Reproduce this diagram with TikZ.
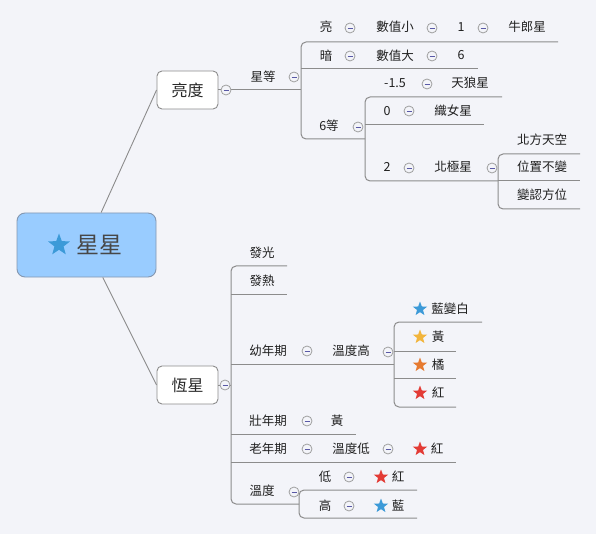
\documentclass[tikz,border=0pt]{standalone}
\usepackage{fontspec}
\newfontfamily\cjk{Noto Sans CJK TC}
\usepackage{xcolor}
\usetikzlibrary{shapes.geometric}
\definecolor{bgcol}{HTML}{F3F4F9}
\definecolor{rootfill}{HTML}{99CCFF}
\definecolor{rootline}{HTML}{8497B0}
\definecolor{linecol}{HTML}{8C8C8C}
\definecolor{starblue}{HTML}{3C9AD8}
\definecolor{staryellow}{HTML}{F2B53C}
\definecolor{starorange}{HTML}{E67A30}
\definecolor{starred}{HTML}{E33B35}

\begin{document}
\begin{tikzpicture}[x=1pt, y=-1pt,
    root/.style={rectangle, draw=rootline, fill=rootfill, line width=0.9pt, rounded corners=8pt, minimum width=139pt, minimum height=64pt},
    mainbox/.style={rectangle, draw=linecol, fill=white, line width=0.9pt, rounded corners=5pt, minimum width=61pt, minimum height=38pt, font=\cjk\fontsize{16}{18}\selectfont, text=black!85},
    topic/.style={inner sep=0pt, font=\cjk\fontsize{12.5}{14}\selectfont, text=black!88},
    fold/.style={circle, draw=gray!75, fill=bgcol, line width=0.8pt, minimum size=10pt, inner sep=0pt, path picture={\draw[gray!70!blue, line width=0.8pt] ([xshift=-2.5pt]path picture bounding box.center) -- ([xshift=2.5pt]path picture bounding box.center);}},
    icon/.style={star, star points=5, star point ratio=2.4, inner sep=0pt, minimum size=15pt, draw=none},
    branch/.style={draw=linecol, line width=1pt, rounded corners=5pt},
    link/.style={draw=linecol, line width=0.9pt}
]
\fill[bgcol] (0,0) rectangle (596,534);
\useasboundingbox (0,0) rectangle (596,534);

% Root and main topics
\node[root] (xingxing) at (86.5,245) {};
\node[icon, fill=starblue, minimum size=23pt] (xingxing-star) at (59,245) {};
\node[topic, font=\cjk\fontsize{23}{26}\selectfont, text=black!72] (xingxing-text) at (99,245) {星星};
\node[mainbox] (liangdu) at (187.5,90) {亮度};
\node[mainbox] (hengxing) at (187.5,385) {恆星};

\draw[link] (xingxing) -- (liangdu.west);
\draw[link] (xingxing) -- (hengxing.west);

% Bracket joints
\coordinate (b-dengji) at (301,90);
\coordinate (b-liu) at (365,139);
\coordinate (b-beiji) at (498,181);
\coordinate (b-hengxing) at (231,385);
\coordinate (b-younian) at (394,364);
\coordinate (b-wendu) at (299,504);

% Underline ends
\coordinate (e-liang) at (558,42);
\coordinate (e-an) at (478,69);
\coordinate (e-fu) at (502,97);
\coordinate (e-zero) at (484,125);
\coordinate (e-beifang) at (580,154);
\coordinate (e-weizhi) at (580,181);
\coordinate (e-bianren) at (580,209);
\coordinate (e-faguang) at (287,266);
\coordinate (e-fare) at (287,294);
\coordinate (e-lanbai) at (482,322);
\coordinate (e-huang1) at (456,351);
\coordinate (e-ju) at (456,378);
\coordinate (e-hong1) at (456,407);
\coordinate (e-zhuang) at (356,434);
\coordinate (e-lao) at (456,462);
\coordinate (e-di) at (417,490);
\coordinate (e-gao) at (417,518);

% Brightness branches
\draw[branch] (liangdu.east) -- (b-dengji);
\draw[branch] (e-liang) -| (b-dengji) |- (b-liu);
\draw[branch] (b-dengji |- e-an) -- (e-an);
\draw[branch] (e-fu) -| (b-liu) |- (b-beiji);
\draw[branch] (b-liu |- e-zero) -- (e-zero);
\draw[branch] (e-beifang) -| (b-beiji) |- (e-bianren);
\draw[branch] (b-beiji) -- (e-weizhi);

% Star branches
\draw[branch] (hengxing.east) -- (b-hengxing);
\draw[branch] (e-faguang) -| (b-hengxing) |- (b-wendu);
\draw[branch] (b-hengxing |- e-fare) -- (e-fare);
\draw[branch] (b-hengxing |- b-younian) -- (b-younian);
\draw[branch] (b-hengxing |- e-zhuang) -- (e-zhuang);
\draw[branch] (b-hengxing |- e-lao) -- (e-lao);
\draw[branch] (e-lanbai) -| (b-younian) |- (e-hong1);
\draw[branch] (b-younian |- e-huang1) -- (e-huang1);
\draw[branch] (b-younian |- e-ju) -- (e-ju);
\draw[branch] (e-di) -| (b-wendu) |- (e-gao);

% Brightness topics
\node[topic] (t-dengji) at (263,77) {星等};
\node[topic] (t-liang) at (326,27) {亮};
\node[topic] (t-shuzhixiao) at (395,27) {數值小};
\node[topic] (t-yi) at (461,27) {1};
\node[topic] (t-niulang) at (527,27) {牛郎星};
\node[topic] (t-an) at (326,56) {暗};
\node[topic] (t-shuzhida) at (395,56) {數值大};
\node[topic] (t-liu) at (461,55) {6};
\node[topic] (t-liudeng) at (329,126) {6等};
\node[topic] (t-fu) at (395,83) {-1.5};
\node[topic] (t-tianlang) at (470,83) {天狼星};
\node[topic] (t-zero) at (387,111) {0};
\node[topic] (t-zhinv) at (453,111) {織女星};
\node[topic] (t-er) at (387,167) {2};
\node[topic] (t-beiji) at (453,167) {北極星};
\node[topic] (t-beifang) at (542,140) {北方天空};
\node[topic] (t-weizhi) at (542,167) {位置不變};
\node[topic] (t-bianren) at (542,195) {變認方位};

% Star topics
\node[topic] (t-faguang) at (262,253) {發光};
\node[topic] (t-fare) at (262,281) {發熱};
\node[topic] (t-younian) at (268,351) {幼年期};
\node[topic] (t-wendugao) at (351,351) {溫度高};
\node[icon, fill=starblue] (s-lanbai) at (420,309) {};
\node[topic] (t-lanbai) at (450,309) {藍變白};
\node[icon, fill=staryellow] (s-huang) at (420,337) {};
\node[topic] (t-huang1) at (438,337) {黃};
\node[icon, fill=starorange] (s-ju) at (420,365) {};
\node[topic] (t-ju) at (438,365) {橘};
\node[icon, fill=starred] (s-hong1) at (420,393) {};
\node[topic] (t-hong1) at (438,393) {紅};
\node[topic] (t-zhuang) at (268,421) {壯年期};
\node[topic] (t-huang2) at (337,421) {黃};
\node[topic] (t-lao) at (268,449) {老年期};
\node[topic] (t-wendudi) at (351,449) {溫度低};
\node[icon, fill=starred] (s-hong2) at (420,449) {};
\node[topic] (t-hong2) at (437,449) {紅};
\node[topic] (t-wendu) at (262,491) {溫度};
\node[topic] (t-di) at (325,477) {低};
\node[icon, fill=starred] (s-hong3) at (381,477) {};
\node[topic] (t-hong3) at (398,477) {紅};
\node[topic] (t-gao) at (325,506) {高};
\node[icon, fill=starblue] (s-lan) at (381,506) {};
\node[topic] (t-lan) at (398,506) {藍};

% Collapse markers
\node[fold] (f-liangdu) at (226,90) {};
\node[fold] (f-dengji) at (294,77) {};
\node[fold] (f-liang) at (350,28) {};
\node[fold] (f-shuzhixiao) at (432,28) {};
\node[fold] (f-yi) at (483,28) {};
\node[fold] (f-an) at (350,56) {};
\node[fold] (f-shuzhida) at (432,56) {};
\node[fold] (f-liudeng) at (358,127) {};
\node[fold] (f-fu) at (427,84) {};
\node[fold] (f-zero) at (409,111) {};
\node[fold] (f-er) at (409,168) {};
\node[fold] (f-beiji) at (492,168) {};
\node[fold] (f-hengxing) at (225,385) {};
\node[fold] (f-younian) at (307,351) {};
\node[fold] (f-wendugao) at (388,352) {};
\node[fold] (f-zhuang) at (307,421) {};
\node[fold] (f-lao) at (307,449) {};
\node[fold] (f-wendudi) at (388,449) {};
\node[fold] (f-wendu) at (294,492) {};
\node[fold] (f-di) at (349,477) {};
\node[fold] (f-gao) at (349,506) {};
\end{tikzpicture}
\end{document}
